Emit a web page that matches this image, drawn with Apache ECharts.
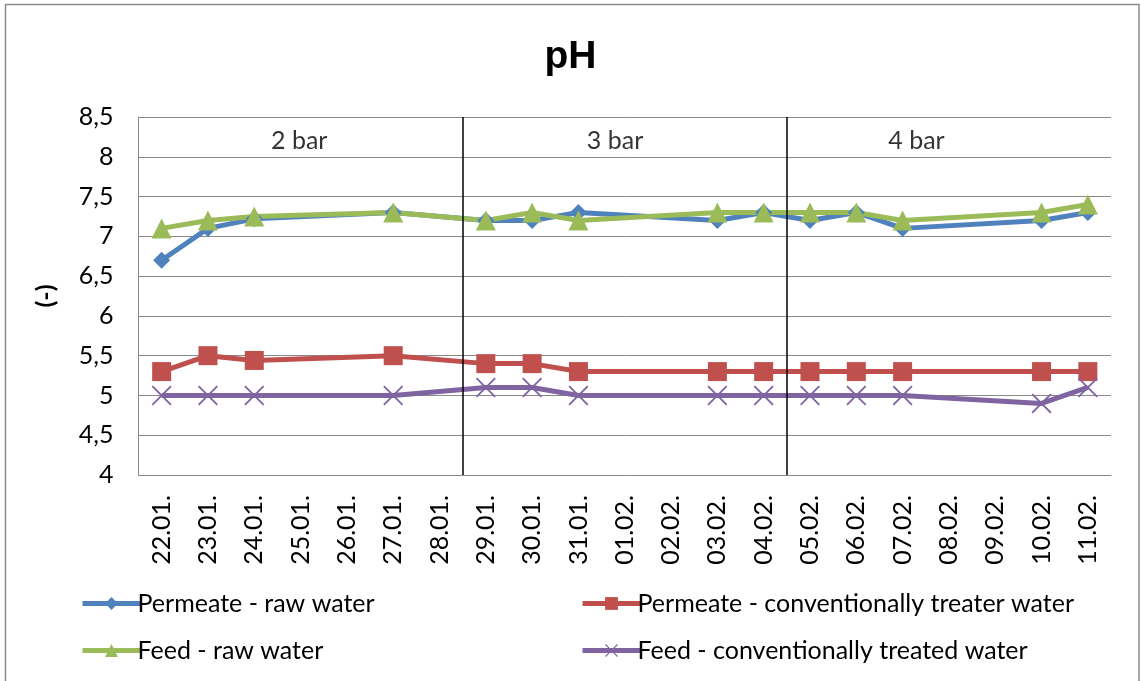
<!DOCTYPE html>
<html>
<head>
<meta charset="utf-8">
<script src="https://cdn.jsdelivr.net/npm/echarts@6/dist/echarts.min.js"></script>
<style>
  html, body { margin: 0; padding: 0; background: #fff; }
  #chart { width: 1141px; height: 681px; }
</style>
</head>
<body>
<div id="chart"></div>
<script>
// Sampling days (Jan–Feb)
const dates = ['22.01.', '23.01.', '24.01.', '25.01.', '26.01.', '27.01.', '28.01.',
  '29.01.', '30.01.', '31.01.', '01.02.', '02.02.', '03.02.', '04.02.', '05.02.',
  '06.02.', '07.02.', '08.02.', '09.02.', '10.02.', '11.02.'];

// pH readings per day (null = no sample)
const permeateRaw  = [6.7, 7.1, 7.22, null, null, 7.3, null, 7.2, 7.2, 7.3, null, null, 7.2, 7.3, 7.2, 7.3, 7.1, null, null, 7.2, 7.3];
const permeateConv = [5.3, 5.5, 5.44, null, null, 5.5, null, 5.4, 5.4, 5.3, null, null, 5.3, 5.3, 5.3, 5.3, 5.3, null, null, 5.3, 5.3];
const feedRaw      = [7.1, 7.2, 7.25, null, null, 7.3, null, 7.2, 7.3, 7.2, null, null, 7.3, 7.3, 7.3, 7.3, 7.2, null, null, 7.3, 7.4];
const feedConv     = [5.0, 5.0, 5.0, null, null, 5.0, null, 5.1, 5.1, 5.0, null, null, 5.0, 5.0, 5.0, 5.0, 5.0, null, null, 4.9, 5.1];

const seriesNames = [
  'Permeate - raw water',
  'Permeate - conventionally treater water',
  'Feed - raw water',
  'Feed - conventionally treated water'
];

// Pressure phases: boundaries between days (category index units) and phase captions
const phaseBoundaries = [6.5, 13.5];
const phaseLabels = ['2 bar', '3 bar', '4 bar'];
const phaseLabelAt = [[2.97, 8.2], [9.79, 8.2], [16.3, 8.2]];

// y axis range
const yMin = 4, yMax = 8.5, yStep = 0.5;

const FONT = 'Lato';
const FS = 25;
const crossPath = 'path://M0,1.3 L1.3,0 L10,8.7 L18.7,0 L20,1.3 L11.3,10 L20,18.7 L18.7,20 L10,11.3 L1.3,20 L0,18.7 L8.7,10 Z';

function lineSeries(name, data, color, symbol, size) {
  return {
    name: name,
    type: 'line',
    data: data,
    connectNulls: true,
    symbol: symbol,
    symbolSize: size,
    showAllSymbol: true,
    lineStyle: { color: color, width: 5 },
    itemStyle: { color: color },
    emphasis: { disabled: true },
    animation: false
  };
}

function legendBlock(names, left) {
  return {
    data: names,
    orient: 'vertical',
    left: left,
    top: 586,
    itemWidth: 58,
    itemHeight: 16,
    itemGap: 22,
    lineStyle: { width: 5 },
    textStyle: { fontFamily: FONT, fontSize: FS, color: '#000', padding: [0, 0, 0, -8] }
  };
}

const chart = echarts.init(document.getElementById('chart'), null, { renderer: 'canvas' });

chart.setOption({
  backgroundColor: '#fff',
  animation: false,
  title: {
    text: 'pH',
    left: 'center',
    top: 33,
    textStyle: { fontFamily: 'Liberation Sans', fontWeight: 'bold', fontSize: 39, color: '#000' }
  },
  graphic: [{
    type: 'rect',
    shape: { x: 5.5, y: 4.5, width: 1133.5, height: 690 },
    style: { fill: null, stroke: '#8a8a8a', lineWidth: 1.5 },
    silent: true,
    z: -1
  }],
  legend: [
    legendBlock([seriesNames[0], seriesNames[2]], 75),
    legendBlock([seriesNames[1], seriesNames[3]], 575)
  ],
  grid: { left: 138.5, right: 30, top: 117, bottom: 206, containLabel: false },
  xAxis: [{
    type: 'category',
    data: dates,
    boundaryGap: true,
    axisLine: { lineStyle: { color: '#888', width: 1 } },
    axisTick: { show: false },
    axisLabel: {
      rotate: 90,
      interval: 0,
      margin: 20,
      fontFamily: FONT,
      fontSize: FS,
      color: '#000'
    },
    splitLine: { show: false }
  }, {
    type: 'value',
    min: -0.5,
    max: dates.length - 0.5,
    show: false
  }],
  yAxis: {
    type: 'value',
    min: yMin,
    max: yMax,
    interval: yStep,
    name: '(-)',
    nameLocation: 'middle',
    nameRotate: 90,
    nameGap: 80,
    nameTextStyle: { fontFamily: FONT, fontWeight: 'bold', fontSize: FS, color: '#000' },
    axisLine: { show: true, onZero: false, lineStyle: { color: '#888', width: 1 } },
    axisTick: { show: false },
    axisLabel: {
      margin: 25,
      fontFamily: FONT,
      fontSize: FS,
      color: '#000',
      formatter: v => String(v).replace('.', ',')
    },
    splitLine: { lineStyle: { color: '#888', width: 1 } }
  },
  series: [
    lineSeries(seriesNames[0], permeateRaw, '#4F81BD', 'diamond', 17),
    lineSeries(seriesNames[1], permeateConv, '#C0504D', 'rect', 19),
    lineSeries(seriesNames[2], feedRaw, '#9BBB59', 'triangle', 20),
    lineSeries(seriesNames[3], feedConv, '#8064A2', crossPath, 20),
    {
      name: 'phases',
      type: 'scatter',
      xAxisIndex: 1,
      data: phaseLabelAt.map((p, i) => ({ value: p, name: phaseLabels[i] })),
      symbolSize: 0,
      silent: true,
      label: {
        show: true,
        position: 'inside',
        formatter: p => p.name,
        fontFamily: FONT,
        fontSize: FS,
        color: '#000'
      },
      markLine: {
        silent: true,
        symbol: 'none',
        label: { show: false },
        lineStyle: { color: '#000', width: 1.5, type: 'solid' },
        data: phaseBoundaries.map(x => ({ xAxis: x }))
      }
    }
  ]
});
</script>
</body>
</html>
